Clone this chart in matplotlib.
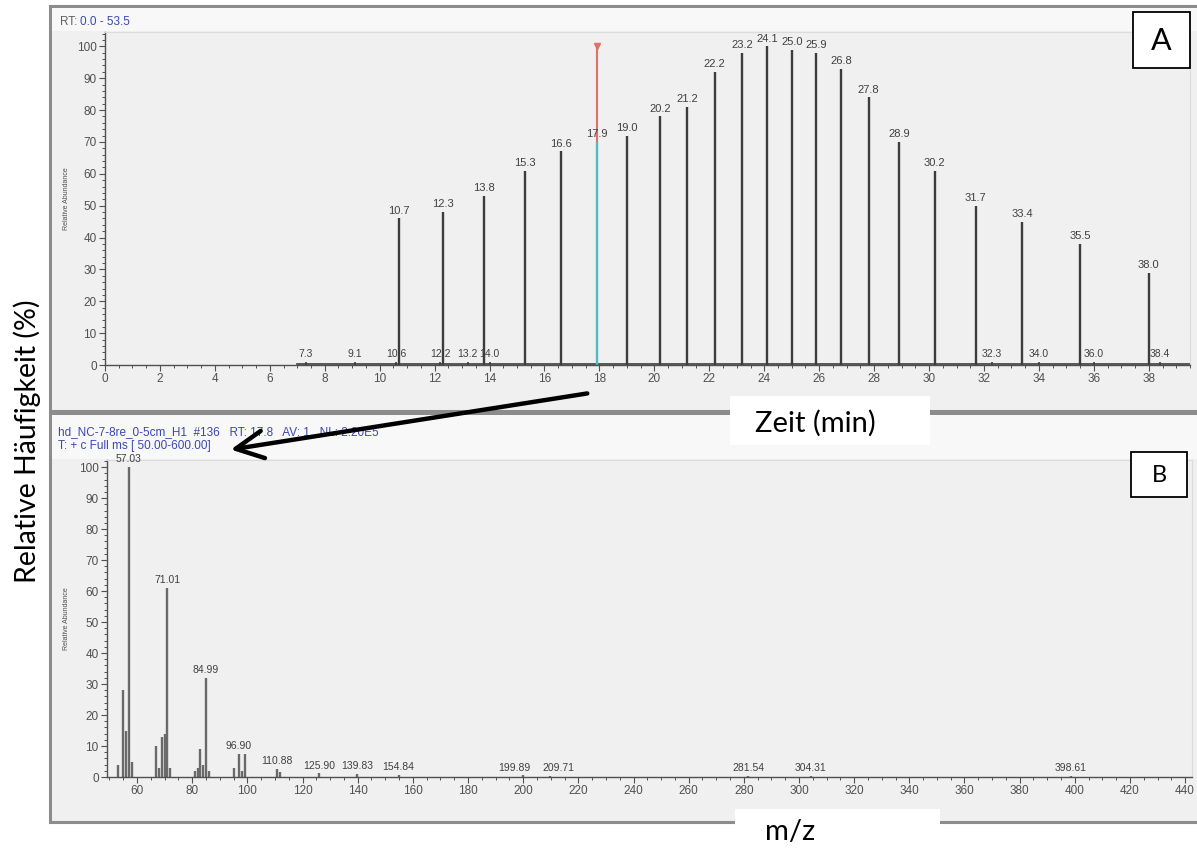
import matplotlib.pyplot as plt
from matplotlib.patches import Rectangle, FancyArrowPatch
from matplotlib.ticker import MultipleLocator

plt.rcParams['font.family'] = ['Liberation Sans', 'DejaVu Sans']

# Panel A: total ion chromatogram, labelled peaks (retention time in min, relative abundance in %)
rt_peaks = [10.7, 12.3, 13.8, 15.3, 16.6, 17.9, 19.0, 20.2, 21.2, 22.2, 23.2,
            24.1, 25.0, 25.9, 26.8, 27.8, 28.9, 30.2, 31.7, 33.4, 35.5, 38.0]
rt_heights = [46, 48, 53, 61, 67, 70, 72, 78, 81, 92, 98,
              100, 99, 98, 93, 84, 70, 61, 50, 45, 38, 29]
rt_small = [7.3, 9.1, 10.6, 12.2, 13.2, 14.0, 32.3, 34.0, 36.0, 38.4]
rt_small_heights = [1.0, 1.0, 1.0, 1.0, 1.0, 1.0, 1.0, 1.0, 1.0, 1.0]
scan_rt = 17.9
scan_marker = 100
baseline_start = 7.0

# Panel B: mass spectrum of the selected scan (m/z, relative abundance in %)
mz = [53, 55, 56, 57.03, 58, 67, 68, 69, 70, 71.01, 72, 81, 82, 83, 84, 84.99, 86,
      95, 96.90, 98, 99, 110.88, 112, 125.90, 139.83, 154.84, 199.89, 209.71,
      281.54, 304.31, 398.61]
mz_heights = [4, 28, 15, 100, 5, 10, 3, 13, 14, 61, 3, 2, 3, 9, 4, 32, 2,
              3, 7.5, 2, 7.5, 2.5, 1.5, 1.2, 1.0, 0.8, 0.5, 0.4,
              0.3, 0.3, 0.3]
mz_labelled = [57.03, 71.01, 84.99, 96.90, 110.88, 125.90, 139.83, 154.84,
               199.89, 209.71, 281.54, 304.31, 398.61]

W, H = 1197, 850
fig = plt.figure(figsize=(W / 100, H / 100), dpi=100)
fig.patch.set_facecolor('white')


def px_rect(x0, y0, x1, y1, z, **kw):
    # rectangle given in pixel coordinates measured from the top-left corner
    r = Rectangle((x0 / W, 1 - y1 / H), (x1 - x0) / W, (y1 - y0) / H,
                  transform=fig.transFigure, zorder=z, **kw)
    fig.patches.append(r)
    return r


# program windows (drawn behind the axes)
px_rect(50, 6, 1199, 411, -2, facecolor='#f0f0f0', edgecolor='#8c8c8c', lw=2.2)
px_rect(52, 8, 1197, 31, -1, facecolor='#f8f8f8', edgecolor='none')
px_rect(50, 413, 1199, 822, -2, facecolor='#f0f0f0', edgecolor='#8c8c8c', lw=2.2)
px_rect(52, 415, 1197, 459, -1, facecolor='#f8f8f8', edgecolor='none')

tick_col = '#505050'
lab_col = '#404040'
title_font = ['Lato', 'DejaVu Sans']


def style_axes(ax):
    ax.set_facecolor('#f0f0f0')
    for s in ['top', 'right']:
        ax.spines[s].set_color('#dcdcdc')
        ax.spines[s].set_linewidth(0.8)
    for s in ['left', 'bottom']:
        ax.spines[s].set_color(tick_col)
        ax.spines[s].set_linewidth(1.0)
    ax.yaxis.set_major_locator(MultipleLocator(10))
    ax.yaxis.set_minor_locator(MultipleLocator(2))
    ax.tick_params(which='major', length=4, width=0.8, color=tick_col,
                   labelsize=8.5, labelcolor='#505050', pad=2)
    ax.tick_params(which='minor', length=2, width=0.7, color=tick_col)
    ax.set_ylabel('Relative Abundance', fontsize=5, color='#505050')


# --- panel A ---
ax1 = fig.add_axes([105 / W, 1 - 365 / H, (1190 - 105) / W, (365 - 32) / H])
style_axes(ax1)
ax1.set_xlim(0, 39.5)
ax1.set_ylim(0, 104.5)
ax1.xaxis.set_major_locator(MultipleLocator(2))
ax1.xaxis.set_minor_locator(MultipleLocator(0.5))
ax1.yaxis.set_label_coords(-0.032, 0.5)

ax1.plot([baseline_start, 39.5], [0.4, 0.4], color='#3c3c3c', lw=1.2)
for t, h in zip(rt_peaks, rt_heights):
    col = '#4fbcc6' if t == scan_rt else '#3c3c3c'
    ax1.vlines(t, 0, h, color=col, lw=1.7)
    ax1.annotate(f'{t:.1f}', (t, h), xytext=(0, 2), textcoords='offset points',
                 ha='center', va='bottom', fontsize=8, color=lab_col)
for t, h in zip(rt_small, rt_small_heights):
    ax1.vlines(t, 0, h, color='#3c3c3c', lw=1.2)
    ax1.annotate(f'{t:.1f}', (t, h), xytext=(0, 2), textcoords='offset points',
                 ha='center', va='bottom', fontsize=7.5, color=lab_col)
# selected scan marker
scan_h = rt_heights[rt_peaks.index(scan_rt)]
ax1.vlines(scan_rt, scan_h, scan_marker, color='#e0706a', lw=1.5)
ax1.plot([scan_rt], [scan_marker], marker='v', color='#e0706a', ms=4)

# --- panel B ---
ax2 = fig.add_axes([107 / W, 1 - 777 / H, (1192 - 107) / W, (777 - 460) / H])
style_axes(ax2)
ax2.set_xlim(49.1, 442.5)
ax2.set_ylim(0, 102.3)
ax2.xaxis.set_major_locator(MultipleLocator(20))
ax2.xaxis.set_minor_locator(MultipleLocator(5))
ax2.yaxis.set_label_coords(-0.034, 0.5)

# crowded labels are pushed apart sideways (offset in points)
label_nudge = {199.89: -6, 209.71: 6}
ax2.vlines(mz, 0, mz_heights, color='#6a6a6a', lw=1.7)
for m in mz_labelled:
    h = mz_heights[mz.index(m)]
    ax2.annotate(f'{m:.2f}', (m, h), xytext=(label_nudge.get(m, 0), 2),
                 textcoords='offset points', ha='center', va='bottom',
                 fontsize=7.5, color=lab_col)

# window header lines
fig.text(60 / W, 1 - 22 / H, 'RT:', fontsize=8.5, color='#606060', va='center')
fig.text(80 / W, 1 - 22 / H, '0.0 - 53.5', fontsize=8.5, color='#3a48b0', va='center')
fig.text(58 / W, 1 - 432 / H,
         'hd_NC-7-8re_0-5cm_H1  #136   RT: 17.8   AV: 1   NL: 2.20E5',
         fontsize=8.5, color='#3a48b0', va='center')
fig.text(58 / W, 1 - 446 / H, 'T: + c Full ms [ 50.00-600.00]',
         fontsize=8.5, color='#3a48b0', va='center')

# panel letters
px_rect(1133, 12, 1190, 68, 4, facecolor='white', edgecolor='black', lw=1.3)
fig.text(1161.5 / W, 1 - 41 / H, 'A', fontsize=22, ha='center', va='center',
         family=title_font, zorder=5)
px_rect(1131, 452, 1187, 497, 4, facecolor='white', edgecolor='black', lw=1.3)
fig.text(1159 / W, 1 - 475 / H, 'B', fontsize=17, ha='center', va='center',
         family=title_font, zorder=5)

# axis titles on white boxes
px_rect(730, 396, 930, 445, 4, facecolor='white', edgecolor='none')
fig.text(815 / W, 1 - 423 / H, 'Zeit (min)', fontsize=21, ha='center', va='center',
         family=title_font, zorder=5)
px_rect(735, 809, 940, 850, 4, facecolor='white', edgecolor='none')
fig.text(790 / W, 1 - 832 / H, 'm/z', fontsize=21, ha='center', va='center',
         family=title_font, zorder=5)
fig.text(27 / W, 1 - 441 / H, 'Relative Häufigkeit (%)', fontsize=20.5, rotation=90,
         ha='center', va='center', family=title_font, zorder=5)

# arrow from the selected scan to its spectrum
arrow = FancyArrowPatch((590 / W, 1 - 393 / H), (228 / W, 1 - 450 / H),
                        transform=fig.transFigure, arrowstyle='->,head_length=0.9,head_width=0.45',
                        mutation_scale=22, color='black', lw=3.2, zorder=6)
fig.patches.append(arrow)

fig.savefig('out.png', dpi=100)
